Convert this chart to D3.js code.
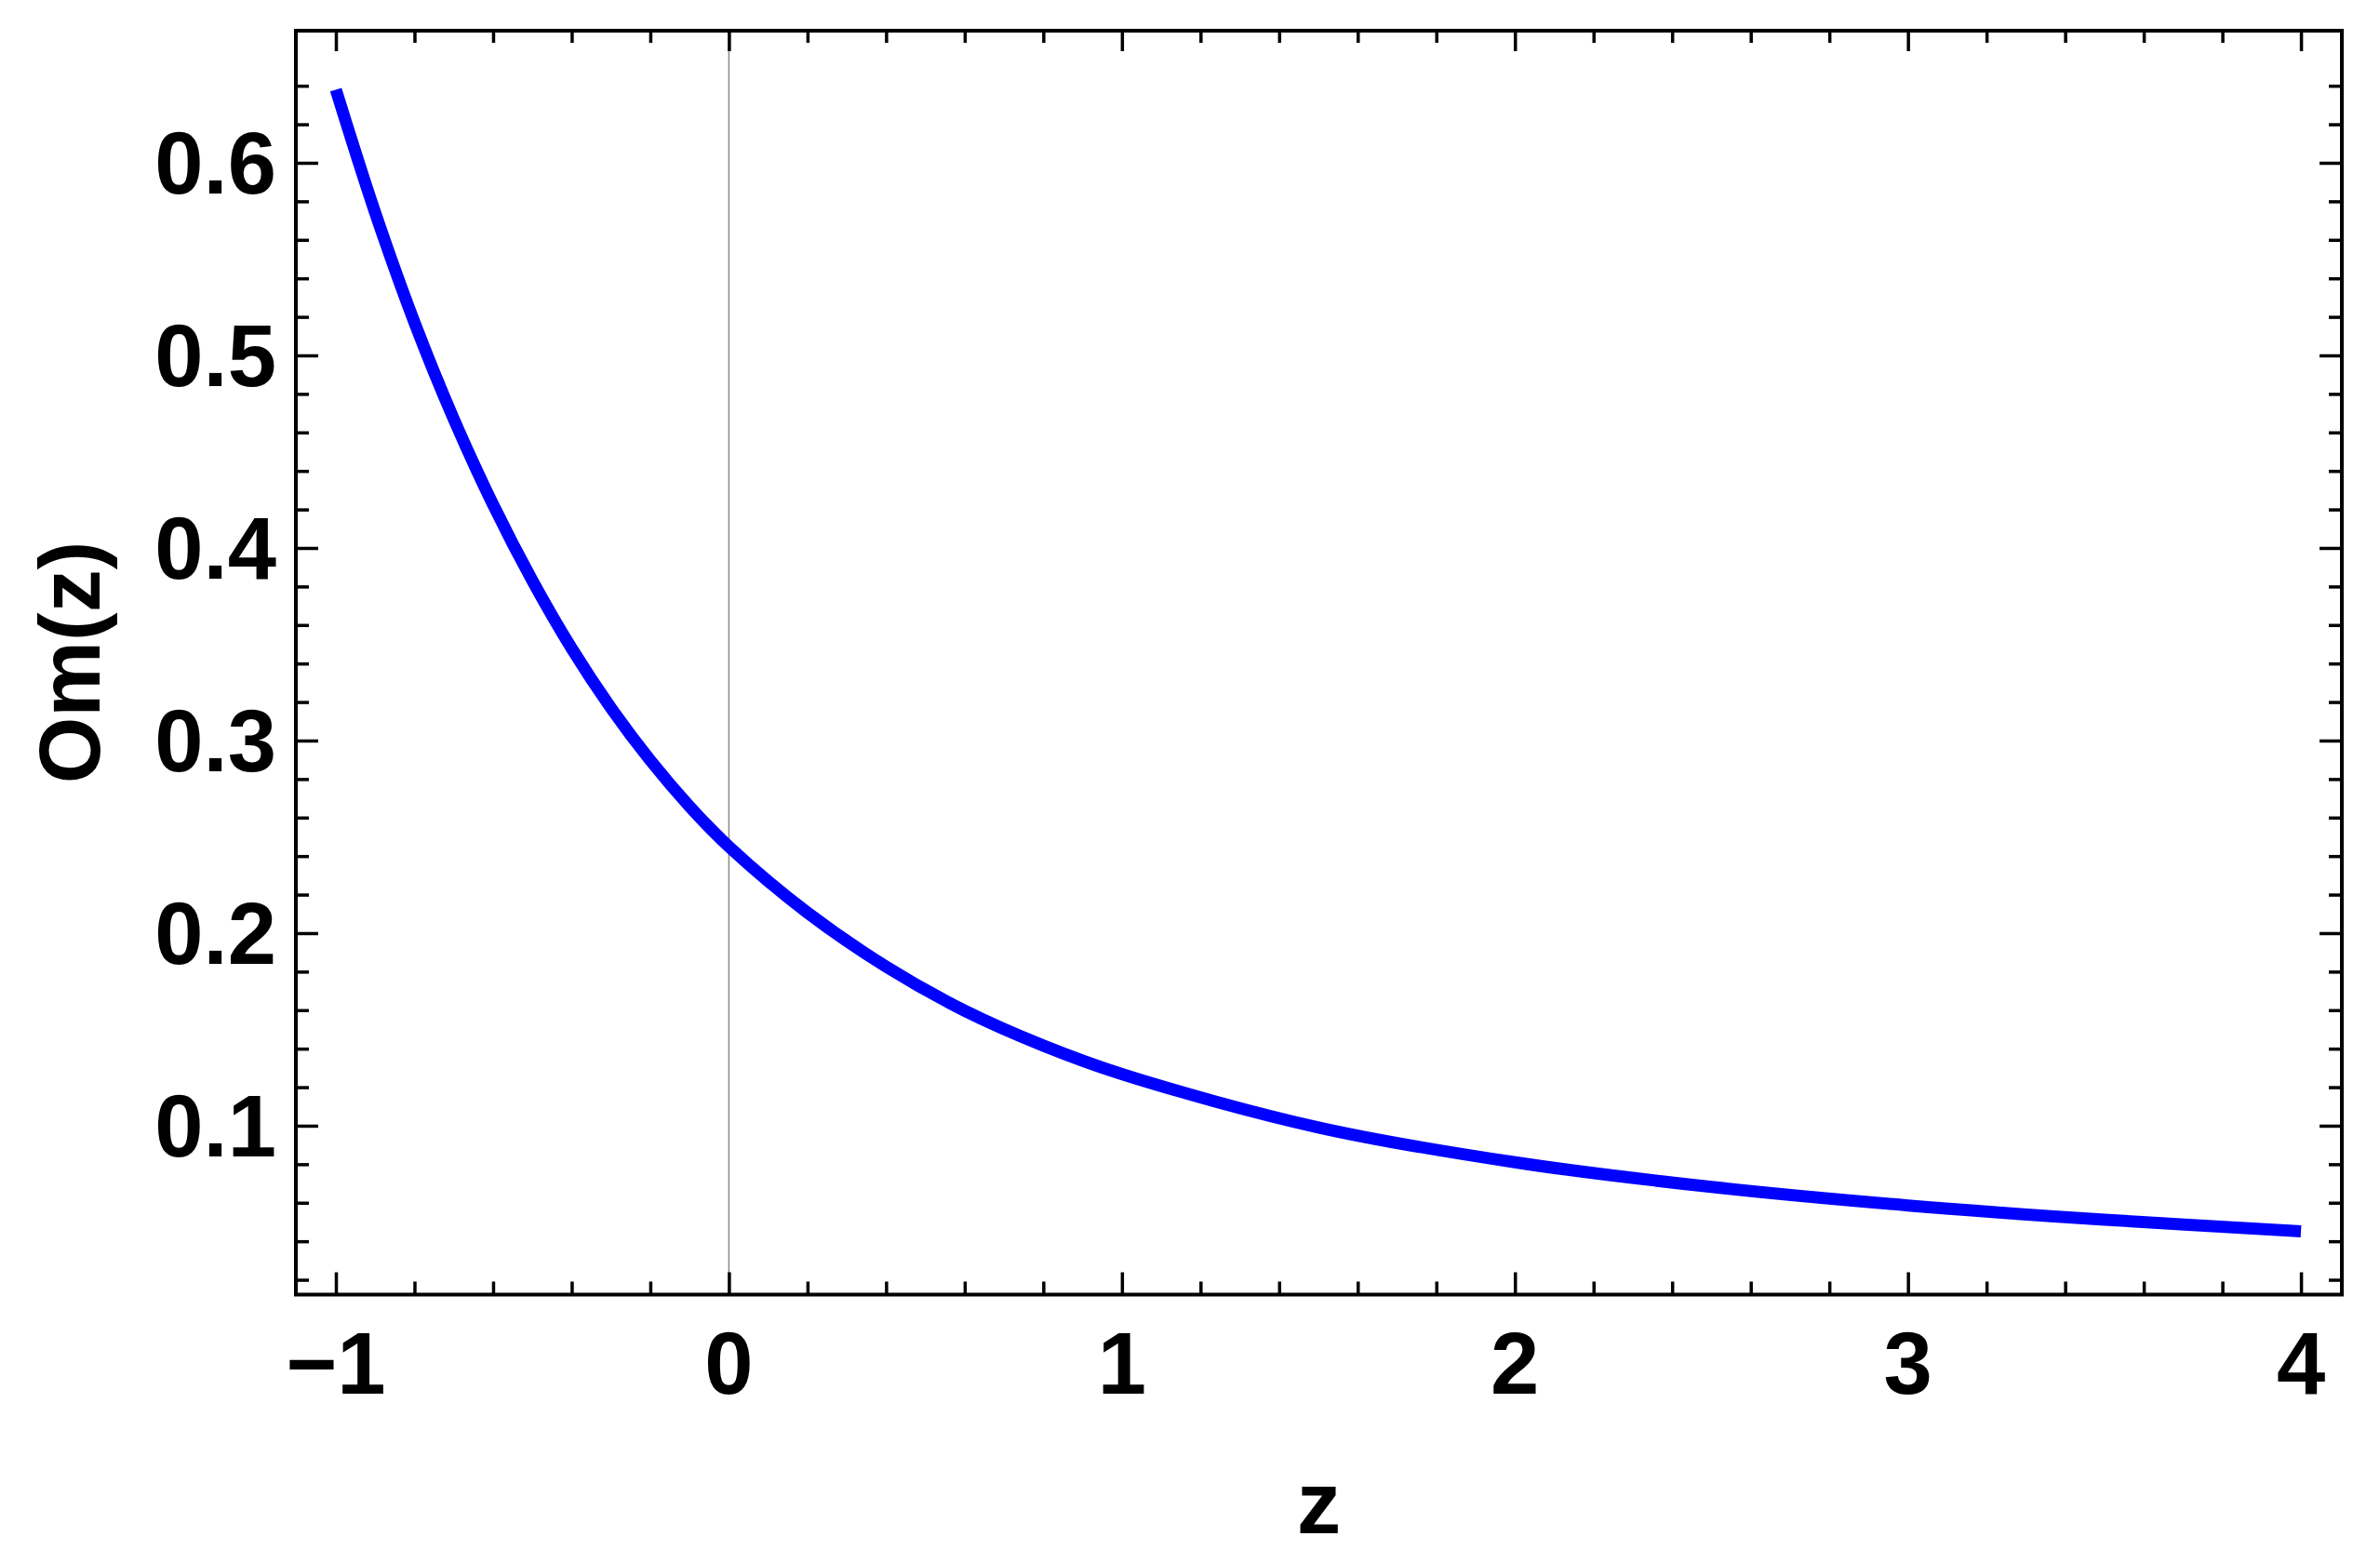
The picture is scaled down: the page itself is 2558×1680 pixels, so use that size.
<!DOCTYPE html>
<html>
<head>
<meta charset="utf-8">
<script src="https://cdn.jsdelivr.net/npm/d3@7"></script>
<style>
  html, body { margin: 0; padding: 0; background: #fff; }
  svg { display: block; }
  text { font-family: "Liberation Sans", Arial, sans-serif; font-weight: bold; fill: #000; }
</style>
</head>
<body>
<svg id="chart" width="2558" height="1680"></svg>
<script>
// Data
const zValues  = [-1, -0.9, -0.8, -0.7, -0.6, -0.5, -0.4, -0.3, -0.2, -0.1, 0, 0.2, 0.4, 0.6, 0.8, 1, 1.5, 2, 2.5, 3, 3.5, 4];
const omValues = [0.638, 0.5741, 0.5171, 0.4669, 0.4225, 0.3830, 0.3478, 0.3169, 0.2897, 0.2658, 0.2449, 0.2106, 0.1826, 0.1597, 0.1416, 0.1268, 0.0991, 0.0810, 0.0682, 0.0586, 0.0512, 0.0452];
const xMajorTicks = [-1, 0, 1, 2, 3, 4];
const xTickLabels = ["\u22121", "0", "1", "2", "3", "4"];
const yMajorTicks = [0.1, 0.2, 0.3, 0.4, 0.5, 0.6];
const yTickLabels = ["0.1", "0.2", "0.3", "0.4", "0.5", "0.6"];
const xLabel = "z";
const yLabel = "Om(z)";

const svg = d3.select("#chart");
const L = 318, R = 2517, T = 33, B = 1391.5;

const x = d3.scaleLinear().domain([-1.1018, 4.104]).range([L, R]);
const y = d3.scaleLinear().domain([0.0123, 0.6686]).range([B, T]);

const data = zValues.map((z, i) => ({ z, v: omValues[i] }));

// minor tick values
const xMinor = d3.range(-1, 4.0001, 0.2).map(d => +d.toFixed(2)).filter(d => Math.abs(d - Math.round(d)) > 1e-6);
const yMinor = d3.range(0.02, 0.66, 0.02).map(d => +d.toFixed(2)).filter(d => Math.abs(d * 10 - Math.round(d * 10)) > 1e-6);

// vertical axis line at z = 0
svg.append("line")
  .attr("x1", x(0)).attr("x2", x(0))
  .attr("y1", T).attr("y2", B)
  .attr("stroke", "#8a8a8a").attr("stroke-width", 1.5);

// curve
const line = d3.line().x(d => x(d.z)).y(d => y(d.v)).curve(d3.curveCatmullRom.alpha(0.5));
svg.append("path")
  .datum(data)
  .attr("d", line)
  .attr("fill", "none")
  .attr("stroke", "#0000ff")
  .attr("stroke-width", 13)
  .attr("stroke-linecap", "butt")
  .attr("stroke-linejoin", "round");

// axes (ticks drawn inward)
const tickW = 3.5;
function axisG(axisFn, transform) {
  const g = svg.append("g").attr("transform", transform).call(axisFn);
  g.select(".domain").remove();
  g.selectAll(".tick line").attr("stroke", "#000").attr("stroke-width", tickW);
  g.selectAll(".tick text").remove();
  return g;
}
// bottom
axisG(d3.axisTop(x).tickValues(xMajorTicks).tickSize(24), `translate(0,${B})`);
axisG(d3.axisTop(x).tickValues(xMinor).tickSize(14), `translate(0,${B})`);
// top
axisG(d3.axisBottom(x).tickValues(xMajorTicks).tickSize(22), `translate(0,${T})`);
axisG(d3.axisBottom(x).tickValues(xMinor).tickSize(13), `translate(0,${T})`);
// left
axisG(d3.axisRight(y).tickValues(yMajorTicks).tickSize(24), `translate(${L},0)`);
axisG(d3.axisRight(y).tickValues(yMinor).tickSize(14), `translate(${L},0)`);
// right
axisG(d3.axisLeft(y).tickValues(yMajorTicks).tickSize(24), `translate(${R},0)`);
axisG(d3.axisLeft(y).tickValues(yMinor).tickSize(14), `translate(${R},0)`);

// frame
svg.append("rect")
  .attr("x", L).attr("y", T)
  .attr("width", R - L).attr("height", B - T)
  .attr("fill", "none").attr("stroke", "#000").attr("stroke-width", 4);

// tick labels
const fs = 94;
svg.selectAll("text.xl").data(xMajorTicks).enter().append("text")
  .attr("class", "xl")
  .attr("x", d => x(d)).attr("y", 1498)
  .attr("text-anchor", "middle")
  .style("font-size", fs + "px")
  .text((d, i) => xTickLabels[i]);

svg.selectAll("text.yl").data(yMajorTicks).enter().append("text")
  .attr("class", "yl")
  .attr("x", 297).attr("y", d => y(d) + 33)
  .attr("text-anchor", "end")
  .style("font-size", fs + "px")
  .text((d, i) => yTickLabels[i]);

// axis labels
svg.append("text")
  .attr("x", (L + R) / 2).attr("y", 1648)
  .attr("text-anchor", "middle")
  .style("font-size", "95px")
  .text(xLabel);

svg.append("text")
  .attr("transform", "translate(107,712) rotate(-90)")
  .attr("text-anchor", "middle")
  .style("font-size", "92px")
  .text(yLabel);
</script>
</body>
</html>
